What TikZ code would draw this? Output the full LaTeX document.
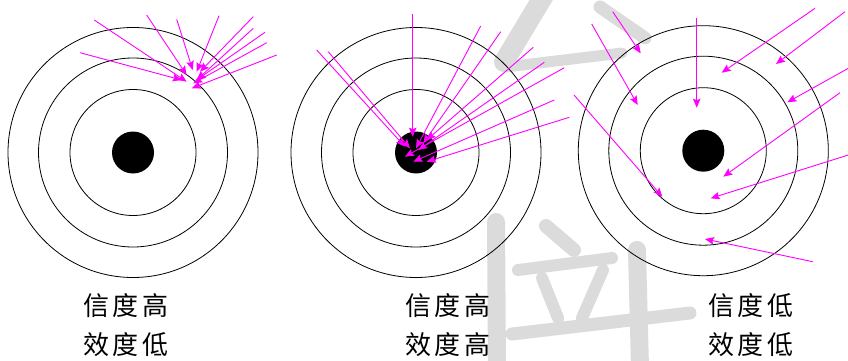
\documentclass[tikz,border=0pt]{standalone}
\usepackage{fontspec}
\newfontfamily\cjk[LetterSpace=14]{Noto Sans CJK TC}
\usetikzlibrary{arrows.meta}
\definecolor{mag}{RGB}{255,0,255}
\definecolor{wm}{RGB}{219,219,219}
\begin{document}
\begin{tikzpicture}[x=1pt,y=-1pt,
  ring/.style={circle,draw=black,line width=0.8pt,inner sep=0pt,minimum size=#1},
  eye/.style={circle,fill=black,inner sep=0pt,minimum size=42pt},
  shot/.style={draw=mag,line width=0.9pt,-{Stealth[length=9pt,width=7.5pt,inset=1.5pt]}},
  lbl/.style={font=\cjk\fontsize{26}{26}\selectfont,anchor=west,inner sep=0pt},
  wmk/.style={draw=wm,line cap=round,line width=#1}]
\useasboundingbox (0,0) rectangle (848,361);
% watermark
\draw[wmk=20pt] (546,-8) -- (504,62);
\draw[wmk=11pt] (506,67) -- (622,53);
\draw[wmk=13pt] (600,7) -- (645,38);
\draw[wmk=18pt] (496,222) -- (497,368);
\draw[wmk=14pt] (546,226) -- (574,250);
\draw[wmk=12pt] (518,270) -- (612,258);
\draw[wmk=12pt] (542,278) -- (558,318);
\draw[wmk=12pt] (603,270) -- (582,318);
\draw[wmk=13pt] (512,334) -- (690,313);
\draw[wmk=18pt] (637,250) -- (640,368);
% targets
\foreach \t/\cx/\cy in {1/133/152.5, 2/416/152.5, 3/703.3/150.7}{
  \node[ring=250pt] (o\t) at (\cx,\cy) {};
  \node[ring=189pt] (m\t) at (\cx,\cy) {};
  \node[ring=126pt] (i\t) at (\cx,\cy) {};
  \node[eye] (b\t) at (\cx,\cy) {};
}
% shots
\foreach \n/\sx/\sy/\ex/\ey in {
  a1/94.3/20/186.7/81.7, a2/80/52.7/181.7/80, a3/146.7/15/186.7/75,
  a4/176.7/19.3/192.7/70, a5/219/15.7/196.7/71.7, a6/253.3/16.7/200/71.7,
  a7/253.3/28.3/196.7/80, a8/265/32.3/196.7/80, a9/266.7/42.7/193.3/83.3,
  a10/276.7/55/191.7/88.3,
  b1/316.7/50/405/146.7, b2/328.3/51.7/410/148.3, b3/412.7/14/412.7/136.7,
  b4/480.7/26/416/148.3, b5/500.7/31.7/423.3/143.3, b6/533.3/47.3/426.7/140,
  b7/544.3/62.3/418.3/150, b8/564.3/67.7/405/156.7, b9/554.3/100/413.3/161.7,
  b10/569.3/117.3/426.7/161.7,
  c1/612.7/11.7/640.7/53.3, c2/591.7/24/637.7/105, c3/574/95/662.3/196.7,
  c4/696.7/18.3/696.7/107.7, c5/815/8.3/721.7/72.7, c6/845/11.7/776/64,
  c7/848.3/68.3/787.3/102.3, c8/840/92.7/723.3/176.7, c9/848.3/155/710.7/198.3,
  c10/812.7/261.7/705/239}{
  \coordinate (s\n) at (\sx,\sy);
  \coordinate (e\n) at (\ex,\ey);
  \draw[shot] (s\n) -- (e\n);
}
% labels
\node[lbl] (l1a) at (83,306) {信度高};
\node[lbl] (l1b) at (83,345) {效度低};
\node[lbl] (l2a) at (405,306) {信度高};
\node[lbl] (l2b) at (405,345) {效度高};
\node[lbl] (l3a) at (708,306) {信度低};
\node[lbl] (l3b) at (708,345) {效度低};
\end{tikzpicture}
\end{document}
